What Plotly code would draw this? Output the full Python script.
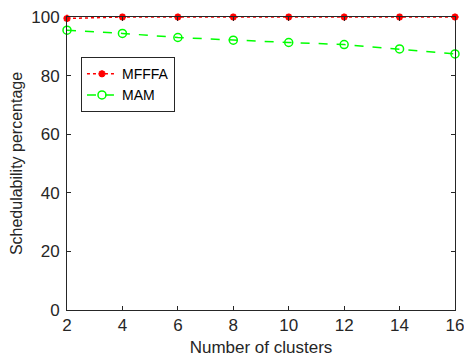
import plotly.graph_objects as go

clusters = [2, 4, 6, 8, 10, 12, 14, 16]
mfffa = [99.5, 100, 100, 100, 100, 100, 100, 100]
mam = [95.5, 94.4, 93.0, 92.1, 91.3, 90.6, 89.1, 87.4]
yticks = [0, 20, 40, 60, 80, 100]

axcol = "#262626"
fam = "Liberation Sans, Arial, sans-serif"
fig = go.Figure()
fig.add_trace(go.Scatter(
    x=clusters, y=mfffa, name="MFFFA", mode="lines+markers",
    line=dict(color="#FF0000", width=1.5, dash="dot"),
    marker=dict(symbol="asterisk-open", size=6, color="#FF0000",
                line=dict(color="#FF0000", width=2.2)),
    cliponaxis=False))
fig.add_trace(go.Scatter(
    x=clusters, y=mam, name="MAM", mode="lines+markers",
    line=dict(color="#00FF00", width=1.5, dash="dash"),
    marker=dict(symbol="circle-open", size=8, color="#00FF00",
                line=dict(color="#00FF00", width=1.5)),
    cliponaxis=False))

fig.update_layout(
    width=464, height=360,
    margin=dict(l=67, r=9, t=17, b=50),
    paper_bgcolor="white", plot_bgcolor="white",
    font=dict(family=fam, size=17, color=axcol),
    showlegend=True,
    legend=dict(x=0.036, y=0.863, xanchor="left", yanchor="top",
                bgcolor="white", bordercolor=axcol, borderwidth=1,
                font=dict(family=fam, size=14, color="#000000"),
                tracegroupgap=0, itemwidth=30),
    xaxis=dict(range=[2, 16], tickvals=clusters, ticks="inside", ticklen=4,
               tickcolor=axcol, showline=True, linecolor=axcol, linewidth=1,
               mirror="ticks", showgrid=False, zeroline=False, automargin=False,
               tickfont=dict(size=17), ticklabeloverflow="allow",
               title=dict(text="Number of clusters", font=dict(size=17), standoff=6)),
    yaxis=dict(range=[0, 100], tickvals=yticks, ticks="inside", ticklen=4,
               tickcolor=axcol, showline=True, linecolor=axcol, linewidth=1,
               mirror="ticks", showgrid=False, zeroline=False, automargin=False,
               tickfont=dict(size=17), ticklabelstandoff=3, ticklabeloverflow="allow",
               title=dict(text="Schedulability percentage", font=dict(size=16), standoff=4)),
)
fig.write_html("out.html")
